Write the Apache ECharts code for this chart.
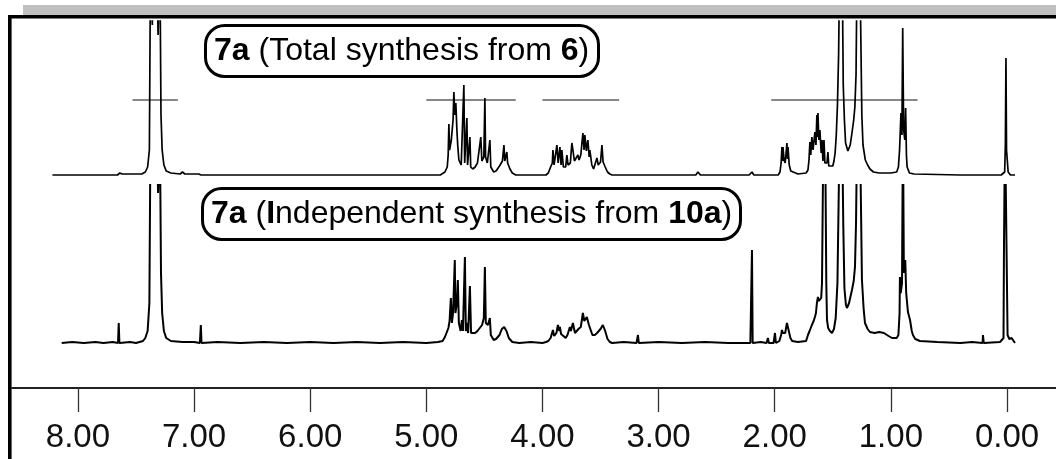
<!DOCTYPE html>
<html>
<head>
<meta charset="utf-8">
<script src="https://cdn.jsdelivr.net/npm/echarts@6/dist/echarts.min.js"></script>
<style>
  html, body { margin: 0; padding: 0; background: #fff; }
  #chart { width: 1056px; height: 459px; }
</style>
</head>
<body>
<div id="chart"></div>
<script>
// Chemical-shift ticks (ppm)
const ppmTicks = [0, 1, 2, 3, 4, 5, 6, 7, 8];

// Trace labels (rich text: {b|...} = bold)
const topLabel = '{b|7a} (Total synthesis from {b|6})';
const bottomLabel = '{b|7a} ({b|I}ndependent synthesis from {b|10a})';

// 1H NMR trace of the sample from total synthesis: [ppm, intensity]
const topSpectrum = [
  [8.22, 0], [7.80, 0], [7.66, 0], [7.64, 2], [7.62, 1], [7.45, 1], [7.42, 3], [7.40, 8],
  [7.385, 25], [7.375, 220], [7.36, 150], [7.345, 220], [7.335, 160], [7.323, 220], [7.31, 140],
  [7.295, 220], [7.285, 60], [7.275, 25], [7.26, 10], [7.24, 4], [7.20, 2], [7.12, 1], [7.10, 3],
  [7.08, 1], [6.96, 1], [6.94, 0], [6.00, 0], [4.88, 0],
  [4.84, 3], [4.82, 8], [4.812, 20], [4.806, 51], [4.80, 25], [4.785, 35], [4.77, 55], [4.763, 83],
  [4.755, 60], [4.746, 72], [4.737, 45], [4.73, 30], [4.72, 15], [4.70, 10], [4.685, 12], [4.677, 90],
  [4.67, 12], [4.66, 10], [4.651, 57], [4.645, 10], [4.632, 9], [4.625, 38], [4.618, 8], [4.60, 6],
  [4.58, 8], [4.56, 12], [4.531, 38], [4.522, 14], [4.505, 18], [4.496, 77], [4.49, 18], [4.475, 12],
  [4.453, 35], [4.445, 8], [4.42, 3], [4.40, 4], [4.37, 9], [4.345, 14], [4.332, 30], [4.325, 14],
  [4.307, 23], [4.30, 12], [4.28, 6], [4.26, 2], [4.23, 0],
  [3.97, 0], [3.95, 2], [3.93, 8], [3.915, 12], [3.91, 25], [3.90, 10], [3.885, 12], [3.876, 30],
  [3.865, 12], [3.85, 28], [3.84, 10], [3.833, 25], [3.82, 8], [3.80, 8], [3.79, 20], [3.78, 10],
  [3.76, 12], [3.747, 32], [3.738, 25], [3.725, 14], [3.71, 12], [3.695, 20], [3.685, 15], [3.67, 20],
  [3.652, 42], [3.642, 25], [3.635, 40], [3.622, 24], [3.609, 35], [3.598, 18], [3.592, 25],
  [3.575, 10], [3.56, 6], [3.545, 8], [3.531, 17], [3.52, 10], [3.50, 13], [3.488, 30], [3.478, 13],
  [3.46, 8], [3.44, 3], [3.42, 1], [3.40, 0],
  [2.68, 0], [2.661, 3], [2.64, 0], [2.22, 0], [2.196, 3], [2.18, 0], [2.07, 0], [2.059, 2],
  [2.04, 0], [1.97, 0], [1.955, 3], [1.945, 12], [1.938, 28], [1.933, 14], [1.929, 28], [1.92, 15],
  [1.91, 12], [1.90, 14], [1.895, 32], [1.89, 16], [1.886, 28], [1.875, 10], [1.862, 4], [1.852, 3],
  [1.80, 1], [1.73, 2], [1.714, 5], [1.705, 15], [1.697, 33], [1.69, 20], [1.68, 38], [1.67, 25],
  [1.654, 43], [1.645, 30], [1.637, 60], [1.633, 38], [1.628, 62], [1.62, 35], [1.611, 45],
  [1.60, 22], [1.593, 35], [1.585, 14], [1.576, 35], [1.568, 12], [1.56, 10], [1.55, 12],
  [1.542, 23], [1.535, 9], [1.52, 8], [1.50, 9], [1.49, 14], [1.48, 22], [1.47, 40], [1.46, 70],
  [1.45, 120], [1.44, 220], [1.43, 220], [1.42, 220], [1.41, 90], [1.40, 55], [1.39, 32],
  [1.37, 24], [1.35, 30], [1.335, 42], [1.32, 55], [1.31, 68], [1.30, 100], [1.29, 220],
  [1.28, 220], [1.27, 220], [1.26, 150], [1.25, 60], [1.24, 30], [1.22, 15], [1.20, 10],
  [1.18, 6], [1.15, 3], [1.10, 2], [1.00, 2], [0.95, 3], [0.935, 8], [0.925, 25], [0.913, 62],
  [0.905, 40], [0.898, 147], [0.89, 45], [0.88, 35], [0.873, 67], [0.866, 20], [0.86, 8],
  [0.84, 2], [0.80, 1], [0.40, 0], [0.05, 0], [0.02, 3], [0.014, 30], [0.009, 117], [0.004, 25],
  [-0.01, 3], [-0.03, 0], [-0.069, 0]
];

// 1H NMR trace of the independently prepared sample: [ppm, intensity]
const bottomSpectrum = [
  [8.14, 0], [8.05, 1], [7.95, 0], [7.85, 1], [7.78, 0], [7.70, 1], [7.655, 0], [7.649, 20],
  [7.643, 0], [7.55, 1], [7.50, 0], [7.44, 2], [7.42, 5], [7.40, 12], [7.385, 40], [7.375, 220],
  [7.36, 160], [7.345, 220], [7.335, 170], [7.323, 220], [7.31, 150], [7.295, 220], [7.285, 70],
  [7.275, 30], [7.26, 12], [7.24, 5], [7.20, 2], [7.10, 1], [7.00, 1], [6.95, 0], [6.942, 18],
  [6.936, 0], [6.80, 1], [6.60, 0], [6.40, 1], [6.20, 0], [6.00, 1], [5.80, 0], [5.60, 1],
  [5.40, 0], [5.20, 1], [5.00, 0], [4.90, 1],
  [4.86, 2], [4.84, 6], [4.81, 15], [4.80, 22], [4.789, 45], [4.78, 20], [4.77, 30], [4.755, 83],
  [4.75, 30], [4.737, 40], [4.729, 63], [4.72, 20], [4.705, 12], [4.694, 23], [4.685, 12],
  [4.668, 86], [4.66, 12], [4.651, 20], [4.64, 10], [4.625, 57], [4.615, 10], [4.60, 11],
  [4.58, 10], [4.56, 12], [4.54, 15], [4.52, 18], [4.505, 25], [4.496, 76], [4.488, 20],
  [4.47, 18], [4.453, 25], [4.445, 8], [4.42, 3], [4.40, 4], [4.37, 8], [4.35, 14], [4.33, 16],
  [4.31, 12], [4.29, 5], [4.26, 1], [4.20, 0], [4.10, 1], [4.00, 0],
  [3.97, 1], [3.95, 2], [3.93, 5], [3.91, 13], [3.90, 7], [3.88, 10], [3.867, 18], [3.855, 12],
  [3.85, 16], [3.84, 9], [3.824, 8], [3.80, 5], [3.785, 8], [3.764, 16], [3.755, 12], [3.738, 20],
  [3.72, 10], [3.704, 10], [3.69, 14], [3.67, 16], [3.652, 30], [3.64, 22], [3.618, 26],
  [3.60, 18], [3.592, 16], [3.57, 8], [3.549, 8], [3.53, 10], [3.50, 14], [3.48, 18], [3.46, 12],
  [3.44, 4], [3.42, 1], [3.40, 0], [3.30, 1], [3.19, 0], [3.178, 8], [3.17, 0], [3.00, 1],
  [2.80, 0], [2.60, 1], [2.40, 0], [2.21, 0], [2.196, 93], [2.190, 0], [2.12, 1], [2.07, 0],
  [2.059, 5], [2.05, 0], [2.01, 0], [1.998, 10], [1.99, 0], [1.96, 2], [1.945, 8], [1.938, 13],
  [1.93, 10], [1.92, 8], [1.91, 10], [1.895, 20], [1.885, 15], [1.878, 16], [1.865, 5],
  [1.85, 2], [1.80, 1], [1.73, 2], [1.714, 8], [1.70, 12], [1.68, 18], [1.665, 22], [1.654, 26],
  [1.645, 30], [1.637, 40], [1.628, 46], [1.62, 42], [1.611, 40], [1.60, 45], [1.593, 60],
  [1.585, 160], [1.575, 220], [1.565, 200], [1.556, 60], [1.55, 23], [1.54, 15], [1.525, 12],
  [1.507, 10], [1.49, 14], [1.475, 25], [1.46, 60], [1.45, 140], [1.44, 220], [1.43, 220],
  [1.42, 220], [1.41, 120], [1.40, 55], [1.387, 38], [1.378, 35], [1.36, 40], [1.335, 53],
  [1.32, 62], [1.309, 76], [1.30, 120], [1.29, 220], [1.27, 220], [1.26, 160], [1.249, 63],
  [1.235, 35], [1.223, 20], [1.20, 14], [1.18, 11], [1.14, 10], [1.10, 11], [1.06, 10],
  [1.02, 7], [0.99, 5], [0.95, 5], [0.935, 8], [0.925, 30], [0.922, 66], [0.915, 50], [0.904, 60],
  [0.896, 220], [0.888, 70], [0.876, 83], [0.868, 50], [0.853, 31], [0.835, 23], [0.82, 12],
  [0.81, 8], [0.79, 4], [0.75, 2], [0.60, 1], [0.40, 0], [0.30, 1], [0.21, 0], [0.207, 8],
  [0.200, 0], [0.06, 1], [0.03, 5], [0.026, 95], [0.017, 220], [0.009, 220], [0.004, 95],
  [-0.005, 8], [-0.02, 4], [-0.04, 5], [-0.069, 0]
];

// Integration marker ranges on the upper trace, [from, to] in ppm, and their height
const integralRanges = [[7.53, 7.14], [5.00, 4.23], [4.00, 3.34], [2.03, 0.77]];
const integralLevel = 75;

const FONT = 'Liberation Sans, Arial, sans-serif';
const X_MIN = -0.422, X_MAX = 8.568;

const chart = echarts.init(document.getElementById('chart'), null, { renderer: 'canvas' });

const labelTitle = (text, left, top) => ({
  text: text,
  left: left,
  top: top,
  padding: [7, 9],
  borderColor: '#000',
  borderWidth: 3,
  borderRadius: 19,
  backgroundColor: '#fff',
  textStyle: {
    fontFamily: FONT, fontSize: 32, fontWeight: 'normal', color: '#000', lineHeight: 38,
    rich: {
      b: { fontFamily: FONT, fontSize: 32, fontWeight: 'bold', color: '#000', lineHeight: 38 }
    }
  }
});

const series = [
  {
    type: 'line', xAxisIndex: 0, yAxisIndex: 0, data: topSpectrum,
    showSymbol: false, symbol: 'none', clip: true,
    lineStyle: { color: '#000', width: 1.7 }, z: 3
  },
  {
    type: 'line', xAxisIndex: 1, yAxisIndex: 1, data: bottomSpectrum,
    showSymbol: false, symbol: 'none', clip: true,
    lineStyle: { color: '#000', width: 2 }, z: 3
  }
];
integralRanges.forEach(r => {
  series.push({
    type: 'line', xAxisIndex: 0, yAxisIndex: 0,
    data: [[r[0], integralLevel], [r[1], integralLevel]],
    showSymbol: false, symbol: 'none',
    lineStyle: { color: '#111', width: 1 }, z: 2
  });
});

chart.setOption({
  animation: false,
  backgroundColor: '#fff',
  title: [
    labelTitle(topLabel, 205, 25),
    labelTitle(bottomLabel, 202, 188)
  ],
  grid: [
    { left: 12, right: 0, top: 21, height: 162 },
    { left: 12, right: 0, top: 185, height: 203 }
  ],
  xAxis: [
    { type: 'value', gridIndex: 0, min: X_MIN, max: X_MAX, inverse: true, show: false },
    {
      type: 'value', gridIndex: 1, min: X_MIN, max: X_MAX, inverse: true, position: 'bottom',
      splitLine: { show: false },
      axisLine: { show: true, onZero: false, lineStyle: { color: '#222', width: 2 } },
      axisTick: { show: true, customValues: ppmTicks, length: 24, lineStyle: { color: '#333', width: 1.3 } },
      axisLabel: {
        show: true, customValues: ppmTicks, margin: 33,
        formatter: v => v.toFixed(2),
        fontFamily: FONT, fontSize: 33, color: '#111'
      }
    }
  ],
  yAxis: [
    { type: 'value', gridIndex: 0, min: -8, max: 154, show: false },
    { type: 'value', gridIndex: 1, min: -45, max: 158, show: false }
  ],
  graphic: [
    // grey band above the frame
    { type: 'rect', shape: { x: 23, y: 5, width: 1040, height: 10 }, style: { fill: '#c0c0c0' }, z: 10 },
    // frame: top and left edges
    { type: 'rect', shape: { x: 8, y: 15, width: 1060, height: 3.4 }, style: { fill: '#000' }, z: 10 },
    { type: 'rect', shape: { x: 8, y: 15, width: 3.6, height: 460 }, style: { fill: '#000' }, z: 10 }
  ],
  series: series
});
</script>
</body>
</html>
